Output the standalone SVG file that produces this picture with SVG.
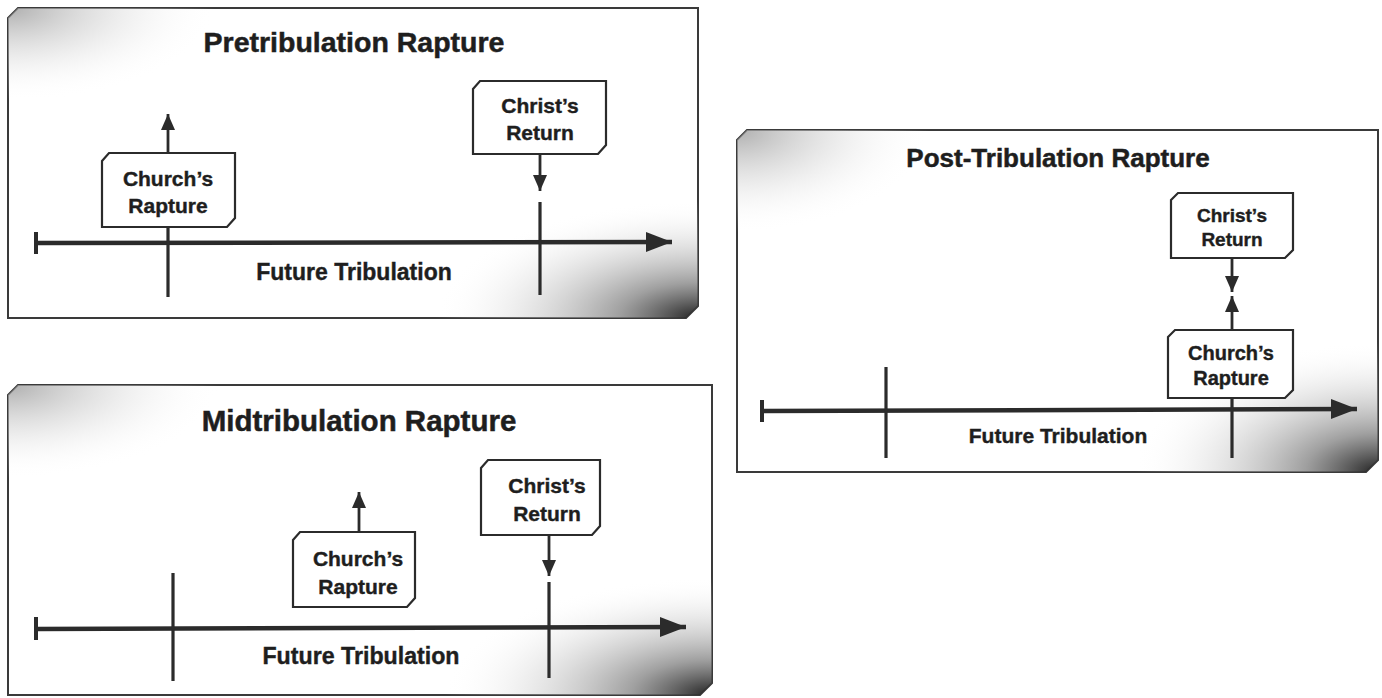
<svg xmlns="http://www.w3.org/2000/svg" width="1382" height="698" viewBox="0 0 1382 698">
<defs>
<radialGradient id="tl" cx="0" cy="0" r="0.3" gradientUnits="objectBoundingBox">
<stop offset="0" stop-color="#9a9a9a" stop-opacity="0.8"/>
<stop offset="0.5" stop-color="#d0d0d0" stop-opacity="0.45"/>
<stop offset="1" stop-color="#ffffff" stop-opacity="0"/>
</radialGradient>
<radialGradient id="br" cx="1" cy="1" r="0.38" gradientUnits="objectBoundingBox">
<stop offset="0" stop-color="#222" stop-opacity="1"/>
<stop offset="0.3" stop-color="#808080" stop-opacity="0.75"/>
<stop offset="1" stop-color="#ffffff" stop-opacity="0"/>
</radialGradient>
<marker id="axisHead" markerUnits="userSpaceOnUse" markerWidth="28" markerHeight="22" refX="26" refY="11" orient="auto">
<path d="M0,1 L26,11 L0,21 Z" fill="#2b2b2b"/>
</marker>
<marker id="smallHead" markerUnits="userSpaceOnUse" markerWidth="18" markerHeight="16" refX="16" refY="8" orient="auto">
<path d="M0,1 L16,8 L0,15 Z" fill="#2b2b2b"/>
</marker>
<style>
.panel{fill:#fff;stroke:#3a3a3a;stroke-width:2}
.box{fill:#fff;stroke:#2b2b2b;stroke-width:2.2}
.title{font-family:"Liberation Sans",Arial,sans-serif;font-weight:bold;fill:#1e1e1e;stroke:#1e1e1e;stroke-width:0.5;text-anchor:middle}
.lbl{font-family:"Liberation Sans",Arial,sans-serif;font-weight:bold;fill:#1e1e1e;stroke:#1e1e1e;stroke-width:0.4;text-anchor:middle}
.axis{stroke:#2b2b2b;stroke-width:4.5;fill:none}
.tick{stroke:#2b2b2b;stroke-width:4;fill:none}
.vert{stroke:#2b2b2b;stroke-width:3.2;fill:none}
.arr{stroke:#2b2b2b;stroke-width:2.8;fill:none}
</style>
</defs>

<!-- Panel 1: Pretribulation -->
<g id="panel-pre">
<path class="panel" d="M8,18 L18,8 L698,8 L698,306 L686,318 L8,318 Z"/>
<path d="M8,18 L18,8 L698,8 L698,306 L686,318 L8,318 Z" fill="url(#tl)" stroke="none"/>
<path d="M8,18 L18,8 L698,8 L698,306 L686,318 L8,318 Z" fill="url(#br)" stroke="none"/>
<text class="title" x="354" y="52" font-size="28.5">Pretribulation Rapture</text>
</g>
<g id="pre-church">
<path class="box" d="M102,161 L109,153 L235,153 L235,218 L227,227 L102,227 Z"/>
<text class="lbl" x="168" y="186" font-size="21">Church’s</text>
<text class="lbl" x="168" y="213" font-size="21">Rapture</text>
</g>
<g id="pre-christ">
<path class="box" d="M473,89 L480,81 L606,81 L606,145 L598,154 L473,154 Z"/>
<text class="lbl" x="540" y="113" font-size="21">Christ’s</text>
<text class="lbl" x="540" y="140" font-size="21">Return</text>
</g>
<g id="pre-label">
<text class="lbl" x="354" y="280" font-size="23">Future Tribulation</text>
</g>
<g id="pre-connectors">
<line class="axis" x1="36" y1="243" x2="672" y2="242" marker-end="url(#axisHead)"/>
<line class="tick" x1="36" y1="232" x2="36" y2="254"/>
<line class="vert" x1="168" y1="227" x2="168" y2="297"/>
<line class="vert" x1="540" y1="202" x2="540" y2="295"/>
<line class="arr" x1="168" y1="153" x2="168" y2="114" marker-end="url(#smallHead)"/>
<line class="arr" x1="540" y1="154" x2="540" y2="191" marker-end="url(#smallHead)"/>
</g>

<!-- Panel 2: Midtribulation -->
<g id="panel-mid">
<path class="panel" d="M8,395 L18,385 L712,385 L712,683 L700,695 L8,695 Z"/>
<path d="M8,395 L18,385 L712,385 L712,683 L700,695 L8,695 Z" fill="url(#tl)" stroke="none"/>
<path d="M8,395 L18,385 L712,385 L712,683 L700,695 L8,695 Z" fill="url(#br)" stroke="none"/>
<text class="title" x="359" y="431" font-size="29.5">Midtribulation Rapture</text>
</g>
<g id="mid-church">
<path class="box" d="M293,540 L300,532 L415,532 L415,598 L407,607 L293,607 Z"/>
<text class="lbl" x="358" y="566" font-size="21">Church’s</text>
<text class="lbl" x="358" y="594" font-size="21">Rapture</text>
</g>
<g id="mid-christ">
<path class="box" d="M481,468 L488,460 L600,460 L600,526 L592,535 L481,535 Z"/>
<text class="lbl" x="547" y="493" font-size="21">Christ’s</text>
<text class="lbl" x="547" y="521" font-size="21">Return</text>
</g>
<g id="mid-label">
<text class="lbl" x="361" y="664" font-size="23.2">Future Tribulation</text>
</g>
<g id="mid-connectors">
<line class="axis" x1="36" y1="629" x2="686" y2="627" marker-end="url(#axisHead)"/>
<line class="tick" x1="36" y1="617" x2="36" y2="640"/>
<line class="vert" x1="173" y1="573" x2="173" y2="681"/>
<line class="vert" x1="549" y1="582" x2="549" y2="678"/>
<line class="arr" x1="359" y1="532" x2="359" y2="492" marker-end="url(#smallHead)"/>
<line class="arr" x1="549" y1="535" x2="549" y2="576" marker-end="url(#smallHead)"/>
</g>

<!-- Panel 3: Post-Tribulation -->
<g id="panel-post">
<path class="panel" d="M737,140 L747,130 L1378,130 L1378,460 L1366,472 L737,472 Z"/>
<path d="M737,140 L747,130 L1378,130 L1378,460 L1366,472 L737,472 Z" fill="url(#tl)" stroke="none"/>
<path d="M737,140 L747,130 L1378,130 L1378,460 L1366,472 L737,472 Z" fill="url(#br)" stroke="none"/>
<text class="title" x="1058" y="167" font-size="26">Post-Tribulation Rapture</text>
</g>
<g id="post-christ">
<path class="box" d="M1171,200 L1178,193 L1293,193 L1293,250 L1285,258 L1171,258 Z"/>
<text class="lbl" x="1232" y="222" font-size="19">Christ’s</text>
<text class="lbl" x="1232" y="246" font-size="19">Return</text>
</g>
<g id="post-church">
<path class="box" d="M1168,337 L1175,330 L1293,330 L1293,390 L1285,398 L1168,398 Z"/>
<text class="lbl" x="1231" y="360" font-size="20">Church’s</text>
<text class="lbl" x="1231" y="385" font-size="20">Rapture</text>
</g>
<g id="post-label">
<text class="lbl" x="1058" y="443" font-size="21">Future Tribulation</text>
</g>
<g id="post-connectors">
<line class="axis" x1="762" y1="411" x2="1357" y2="409" marker-end="url(#axisHead)"/>
<line class="tick" x1="762" y1="400" x2="762" y2="422"/>
<line class="vert" x1="886" y1="367" x2="886" y2="458"/>
<line class="vert" x1="1232" y1="398" x2="1232" y2="458"/>
<line class="arr" x1="1232" y1="258" x2="1232" y2="292" marker-end="url(#smallHead)"/>
<line class="arr" x1="1232" y1="330" x2="1232" y2="296" marker-end="url(#smallHead)"/>
</g>
</svg>
